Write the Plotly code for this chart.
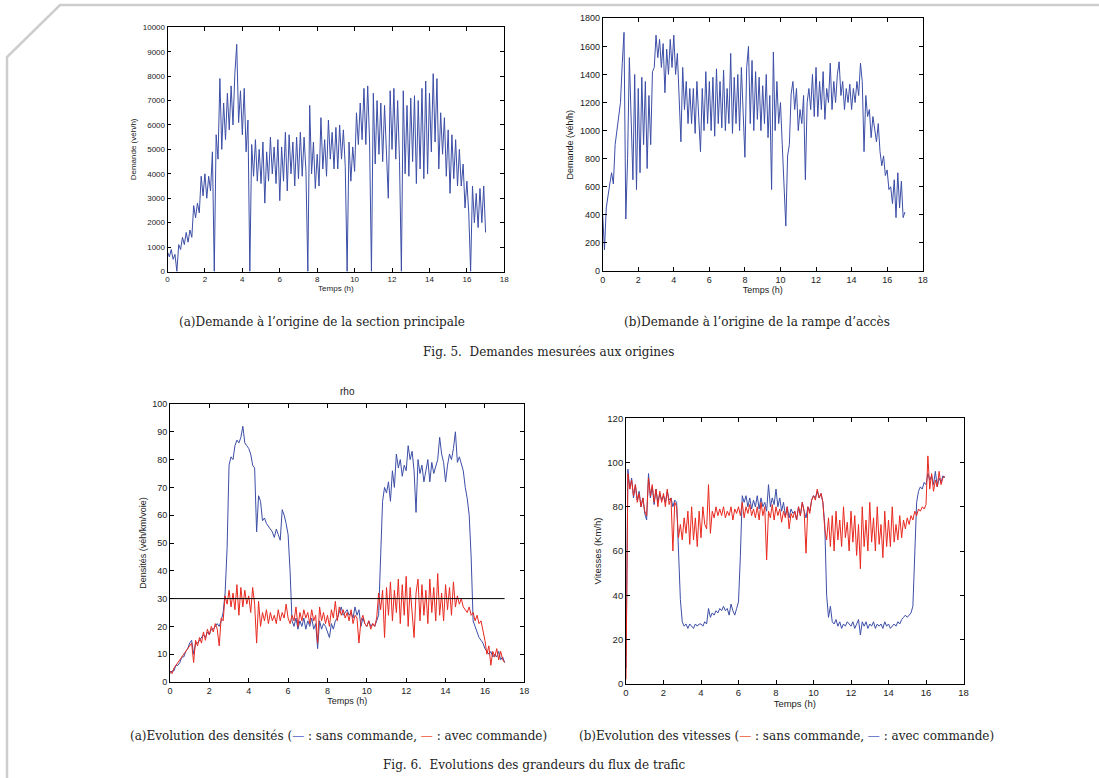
import numpy as np
import plotly.graph_objects as go

# time grid (h), one sample every 0.1 h from 0 to 17
temps = np.round(np.arange(171) * 0.1, 1)

# Fig 5a : demande à l'origine de la section principale (veh/h)
demande_principale = [
    800, 600, 900, 500, 700, 0, 1100, 900, 1400, 1100,
    1600, 1200, 1700, 1400, 2700, 2200, 2800, 2400, 3900, 3100,
    4000, 3000, 3900, 3300, 4900, 0, 5600, 4600, 7900, 5000,
    6900, 5400, 7300, 5800, 7600, 6000, 8100, 9300, 6100, 7400,
    5600, 7500, 4900, 6200, 0, 5200, 3900, 5400, 3700, 5000,
    3600, 5300, 2800, 4900, 3700, 5500, 4000, 5100, 3600, 5400,
    2900, 5100, 3700, 5700, 3300, 5600, 4000, 5300, 3500, 5500,
    3800, 5700, 3900, 5500, 4100, 0, 6800, 4000, 5300, 3400,
    4800, 3500, 6300, 4200, 5400, 3900, 6200, 4600, 5700, 4200,
    5900, 4200, 6000, 4600, 5800, 4300, 0, 5300, 3700, 5100,
    4100, 6500, 5200, 6900, 5400, 7500, 5200, 7600, 5300, 0,
    7300, 4400, 7000, 4800, 6900, 4500, 6800, 4700, 3000, 7400,
    5000, 7500, 4600, 7000, 4500, 0, 7400, 4000, 6800, 3900,
    7100, 4500, 7200, 3600, 7000, 4200, 7500, 3800, 7800, 4000,
    7300, 4900, 8100, 5300, 7900, 4200, 6500, 4800, 6300, 3900,
    5800, 3200, 5600, 3800, 5400, 3500, 5000, 3500, 4400, 2600,
    3700, 2400, 0, 3500, 2000, 3200, 1800, 3400, 2000, 3500,
    1600,
]

# Fig 5b : demande à l'origine de la rampe d'accès (veh/h)
demande_rampe = [
    400, 150, 450, 550, 620, 700, 620, 900, 1000, 1120,
    1200, 1480, 1700, 370, 800, 1520, 1100, 650, 1400, 580,
    1300, 700, 1380, 900, 1350, 730, 1250, 900, 1420, 1450,
    1680, 1520, 1650, 1450, 1620, 1270, 1580, 1400, 1650, 1450,
    1680, 1400, 1550, 1250, 920, 1450, 1150, 1350, 1050, 1300,
    1050, 1300, 980, 1350, 1080, 850, 1300, 1000, 1420, 1050,
    1350, 1000, 1380, 960, 1440, 1050, 1350, 1020, 1430, 1000,
    1300, 1050, 1550, 980, 1380, 1050, 1400, 1000, 1450, 1100,
    810, 1450, 1600, 1050, 1500, 1000, 1420, 1080, 1380, 1000,
    1320, 1050, 1400, 950, 1250, 580, 1560, 1000, 1350, 1050,
    1200, 900, 650, 320, 820, 900, 1260, 1350, 1150, 1300,
    1000, 1150, 1050, 1250, 650, 1200, 1300, 1150, 1400, 1100,
    1450, 1100, 1350, 1150, 1420, 1080, 1300, 1200, 1480, 1150,
    1350, 1200, 1400, 1490, 1250, 1350, 1150, 1300, 1200, 1330,
    1150, 1300, 1200, 1350, 1250, 1480, 1350, 850, 1250, 1100,
    1150, 950, 1100, 1000, 920, 1050, 850, 750, 820, 680,
    720, 580, 600, 480, 650, 380, 700, 450, 640, 380,
    420,
]

# Fig 6a : densités (veh/km/voie)
densite_sans = [
    3, 4, 4, 6, 6, 7, 9, 9, 11, 12,
    14, 15, 10, 14, 14, 15, 16, 17, 16, 18,
    17, 19, 19, 20, 21, 20, 22, 25, 32, 48,
    78, 81, 80, 85, 87, 86, 88, 92, 86, 85,
    84, 82, 78, 77, 54, 67, 65, 58, 59, 57,
    56, 55, 54, 52, 55, 53, 51, 62, 60, 57,
    53, 40, 22, 20, 23, 19, 22, 20, 23, 19,
    22, 20, 23, 19, 21, 12, 22, 19, 21, 20,
    18, 16, 21, 19, 22, 23, 25, 27, 24, 25,
    26, 24, 25, 23, 27, 24, 26, 20, 23, 21,
    20, 22, 20, 21, 20, 22, 24, 45, 65, 70,
    68, 72, 65, 76, 70, 82, 77, 80, 74, 78,
    76, 85, 80, 83, 76, 61, 80, 75, 78, 72,
    76, 80, 72, 79, 75, 78, 80, 88, 82, 79,
    72, 78, 82, 80, 84, 90, 79, 81, 78, 76,
    70, 66, 60, 45, 22, 20, 18, 16, 15, 14,
    12, 11, 10, 11, 9, 10, 9, 11, 8, 9,
    7,
]
densite_avec = [
    4, 3, 5, 6, 7, 8, 9, 10, 11, 12,
    13, 14, 7, 15, 13, 16, 14, 18, 15, 19,
    17, 20, 18, 21, 19, 13, 23, 22, 31, 28,
    33, 27, 32, 26, 35, 24, 34, 27, 33, 28,
    31, 25, 34, 28, 14, 29, 20, 25, 22, 26,
    21, 25, 22, 24, 21, 26, 22, 25, 23, 28,
    23, 21, 24, 22, 27, 20, 25, 22, 26, 23,
    25, 21, 26, 22, 24, 14, 27, 22, 25, 21,
    24, 20, 26, 23, 29, 22, 27, 24, 26, 23,
    25, 22, 26, 21, 24, 23, 14, 22, 24, 21,
    20, 22, 19, 21, 20, 23, 32, 26, 33, 16,
    34, 24, 36, 22, 33, 25, 37, 21, 35, 24,
    38, 20, 34, 26, 16, 32, 37, 22, 35, 24,
    33, 21, 37, 25, 34, 22, 39, 24, 32, 22,
    35, 26, 34, 24, 36, 27, 31, 28, 30, 27,
    26, 25, 27, 24, 25, 22, 24, 21, 22, 19,
    15, 10, 13, 6, 11, 9, 12, 8, 11, 8,
    7,
]
seuil_densite = 30

# Fig 6b : vitesses (km/h)
vitesse_bleu = [
    7, 97, 88, 93, 84, 90, 83, 87, 80, 84,
    77, 74, 95, 84, 89, 81, 88, 82, 86, 83,
    85, 82, 87, 83, 84, 80, 83, 82, 60, 38,
    28, 26, 27, 25, 27, 26, 25, 27, 26, 27,
    27, 26, 28, 27, 34, 30, 32, 31, 33, 32,
    34, 33, 35, 33, 34, 31, 36, 33, 31, 34,
    37, 58, 85, 82, 85, 80, 84, 79, 83, 80,
    85, 79, 84, 80, 82, 78, 90, 80, 84, 81,
    88, 80, 84, 78, 82, 76, 80, 75, 79, 77,
    78, 74, 80, 76, 82, 78, 75, 80, 78, 83,
    85, 84, 87, 84, 86, 82, 72, 40, 30, 35,
    28, 27, 29, 26, 28, 25, 27, 26, 28, 27,
    26, 28, 25, 27, 29, 22, 28, 26, 28, 25,
    27, 26, 28, 25, 27, 26, 27, 25, 28, 26,
    27, 25, 26, 27, 26, 28, 27, 29, 30, 31,
    30, 31, 32, 35, 60, 82, 87, 89, 88, 91,
    90, 95, 92, 94, 90, 96, 89, 93, 91, 94,
    93,
]
vitesse_rouge = [
    2, 95, 88, 92, 85, 90, 82, 86, 80, 84,
    78, 76, 93, 85, 90, 82, 88, 80, 87, 82,
    86, 80, 88, 81, 84, 60, 82, 80, 66, 72,
    65, 75, 68, 78, 63, 80, 65, 75, 62, 78,
    66, 80, 72, 70, 90, 68, 78, 75, 80, 76,
    79, 76, 80, 75, 78, 76, 80, 74, 79, 77,
    80, 76, 82, 75, 80, 77, 81, 76, 79, 75,
    80, 74, 82, 76, 80, 56, 78, 75, 81, 74,
    80, 76, 79, 73, 78, 75, 80, 70, 77, 75,
    78, 74, 80, 76, 82, 78, 59, 80, 77, 83,
    85, 83, 88, 84, 86, 82, 70, 65, 75, 62,
    76, 60, 78, 65, 74, 62, 80, 66, 73, 60,
    78, 64, 76, 58, 72, 52, 80, 62, 74, 60,
    82, 64, 75, 60, 80, 63, 72, 57, 78, 62,
    74, 62, 80, 64, 72, 65, 76, 66, 74, 70,
    75, 72, 76, 74, 78, 76, 79, 78, 80, 79,
    81, 103, 88, 95, 87, 92, 89, 96, 90, 93,
    94,
]

BLUE = "#3c4ea6"
RED = "#e8291f"
W, H = 1099, 778

fig = go.Figure()

def line(x, y, color, xa, ya, width=1.0):
    fig.add_trace(go.Scatter(x=x, y=y, mode="lines", xaxis=xa, yaxis=ya,
                             line=dict(color=color, width=width),
                             showlegend=False, hoverinfo="skip"))

line(temps, demande_principale, BLUE, "x", "y")
line(temps, demande_rampe, BLUE, "x2", "y2")
line(temps, densite_sans, BLUE, "x3", "y3")
line(temps, densite_avec, RED, "x3", "y3")
line([temps[0], temps[-1]], [seuil_densite, seuil_densite], "black", "x3", "y3", 1)
line(temps, vitesse_bleu, BLUE, "x4", "y4")
line(temps, vitesse_rouge, RED, "x4", "y4")

def px_dom(a, b, total, flip=False):
    if flip:
        return [1 - b / total, 1 - a / total]
    return [a / total, b / total]

axis_common = dict(showline=True, linecolor="black", linewidth=0.8, mirror="ticks",
                   ticks="inside", ticklen=4, tickcolor="black", tickwidth=0.8,
                   showgrid=False, zeroline=False, automargin=False,
                   tickformat="d")

panels = [
    ((167.5, 504.3), (27.3, 271.5), [0, 10000], 1000, 8, "Demande (véh/h)"),
    ((602.7, 922.7), (18.3, 271.0), [0, 1800], 200, 9, "Demande (véh/h)"),
    ((170.0, 524.3), (404.0, 682.0), [0, 100], 10, 9, "Densités (véh/km/voie)"),
    ((626.0, 963.5), (418.3, 683.7), [0, 120], 20, 9.5, "Vitesses (Km/h)"),
]

for i, (xd, yd, yr, dt, fs, yt) in enumerate(panels, start=1):
    sx = "" if i == 1 else str(i)
    tf = dict(family="Liberation Sans, Arial, sans-serif", size=fs, color="#222")
    fig.layout["xaxis" + sx] = dict(axis_common, domain=px_dom(*xd, W),
                                    anchor="y" + sx, range=[0, 18], dtick=2,
                                    tick0=0, tickfont=tf,
                                    title=dict(text="Temps (h)", font=tf, standoff=2))
    fig.layout["yaxis" + sx] = dict(axis_common, domain=px_dom(*yd, H, flip=True),
                                    anchor="x" + sx, range=yr, dtick=dt, tick0=0,
                                    tickfont=tf,
                                    title=dict(text=yt, font=tf, standoff=4))

serif = dict(family="DejaVu Serif, Liberation Serif, serif", size=12, color="#222")

def note(text, x, y, font=serif):
    fig.add_annotation(text=text, x=x / W, y=1 - y / H, xref="paper", yref="paper",
                       showarrow=False, xanchor="center", yanchor="middle", font=font)

note("(a)Demande à l’origine de la section principale", 322, 322)
note("(b)Demande à l’origine de la rampe d’accès", 757, 322)
note("Fig. 5.  Demandes mesurées aux origines", 548, 352)
blue_dash = '<span style="color:#6f7fd0">—</span>'
red_dash = '<span style="color:#f0735a">—</span>'
note("(a)Evolution des densités (" + blue_dash + " : sans commande, " + red_dash +
     " : avec commande)", 338, 736)
note("(b)Evolution des vitesses (" + red_dash + " : sans commande, " + blue_dash +
     " : avec commande)", 786, 736)
note("Fig. 6.  Evolutions des grandeurs du flux de trafic", 534, 765)
note("rho", 347, 391, dict(family="Liberation Sans, Arial, sans-serif", size=10, color="#222"))

# page border with cut corner
fig.add_shape(type="path", xref="paper", yref="paper",
              path=f"M 1.01,{1 - 5 / H} L {60 / W},{1 - 5 / H} L {7 / W},{1 - 57 / H} L {7 / W},-0.01",
              line=dict(color="#cdcdcd", width=2.5))

fig.update_layout(width=W, height=H, margin=dict(l=0, r=0, t=0, b=0, pad=0),
                  paper_bgcolor="white", plot_bgcolor="white", showlegend=False)

fig.write_html("out.html", config={"displayModeBar": False},
               post_script="document.body.style.margin='0';")
